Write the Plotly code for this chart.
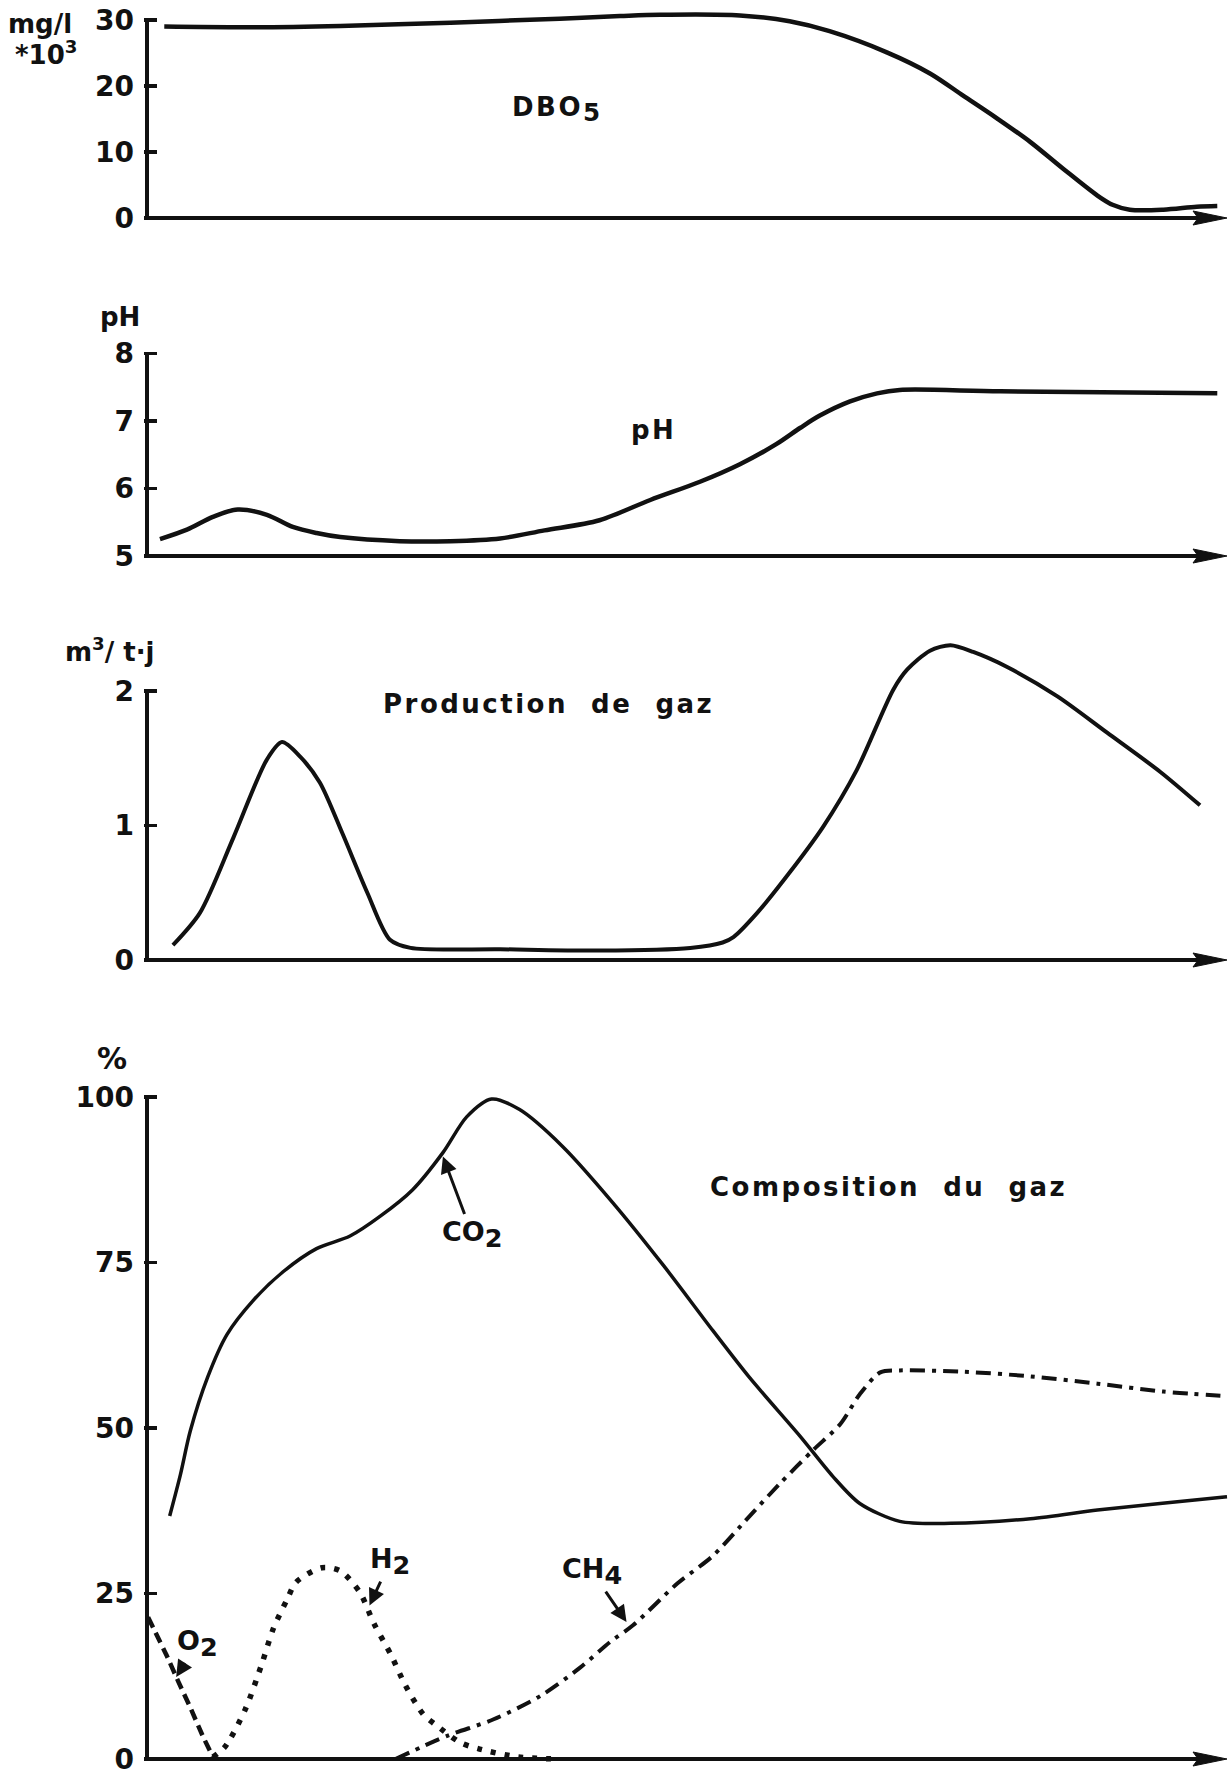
import plotly.graph_objects as go

W, H = 1230, 1776

# ---------------- data (time axis in arbitrary units, no x ticks in original) ----------------
dbo_t = [1.6, 9.5, 17.9, 28.1, 38.2, 43.8, 47.5, 54.9, 59.5, 63.2, 68.5, 72.5, 75.6, 78.7,
         81.8, 84.8, 88.0, 89.4, 91.0, 94.1, 97.2, 99.1]
dbo_v = [29.0, 28.9, 29.1, 29.6, 30.2, 30.6, 30.8, 30.7, 29.8, 28.3, 25.1, 21.9, 18.5, 15.1,
         11.5, 7.5, 3.4, 2.0, 1.25, 1.25, 1.7, 1.8]

ph_t = [1.2, 3.7, 6.1, 8.4, 11.1, 13.5, 15.7, 17.9, 23.4, 28.1, 32.7, 36.8, 41.9, 46.6, 51.2,
        54.9, 58.3, 60.5, 62.3, 65.1, 67.6, 69.7, 79.0, 99.1]
ph_v = [5.25, 5.39, 5.58, 5.69, 5.61, 5.43, 5.34, 5.28, 5.22, 5.22, 5.26, 5.38, 5.53, 5.83, 6.10,
        6.36, 6.66, 6.90, 7.08, 7.29, 7.41, 7.46, 7.44, 7.41]

gas_t = [2.4, 4.9, 8.0, 11.1, 12.5, 14.2, 16.0, 18.1, 20.4, 22.5, 24.4, 32.7, 41.9, 50.3, 53.3,
         54.3, 56.5, 59.5, 62.6, 65.7, 69.1, 70.4, 72.5, 74.4, 76.5, 79.6, 84.3, 88.9, 93.8, 97.5]
gas_v = [0.11, 0.35, 0.91, 1.49, 1.62, 1.51, 1.32, 0.94, 0.50, 0.15, 0.09, 0.08, 0.07, 0.09, 0.13,
         0.17, 0.35, 0.65, 0.99, 1.41, 2.01, 2.16, 2.30, 2.34, 2.29, 2.18, 1.96, 1.69, 1.40, 1.15]

co2_t = [2.1, 3.1, 4.0, 5.6, 7.4, 9.8, 12.6, 15.7, 18.8, 21.6, 24.6, 27.4, 29.6, 31.9, 34.5,
         38.5, 43.1, 47.8, 52.4, 55.8, 60.5, 63.5, 66.0, 69.7, 74.4, 81.8, 88.0, 93.8, 100.0]
co2_v = [36.7, 43.0, 49.5, 57.6, 64.1, 69.2, 73.6, 77.1, 79.0, 82.0, 86.0, 91.6, 97.0, 99.7, 98.1,
         92.5, 84.1, 74.6, 64.7, 57.6, 48.7, 42.7, 38.6, 35.9, 35.6, 36.3, 37.6, 38.6, 39.6]

ch4_t = [23.0, 27.8, 32.1, 36.4, 40.1, 42.9, 45.0, 49.1, 52.4, 55.8, 58.6, 61.7, 64.2, 66.0,
         67.9, 69.7, 75.6, 81.8, 88.0, 94.1, 100.0]
ch4_v = [0.0, 3.5, 6.0, 9.5, 13.8, 17.7, 20.2, 26.5, 30.7, 36.7, 41.6, 46.7, 50.6, 55.1,
         58.4, 58.7, 58.5, 57.8, 56.7, 55.5, 54.8]

h2_t = [6.1, 7.2, 9.1, 10.6, 11.7, 13.0, 13.8, 16.2, 17.9, 19.7, 21.0, 22.6, 23.9, 25.6, 26.7,
        29.0, 30.8, 34.4, 38.0]
h2_v = [0.3, 1.8, 7.5, 14.2, 19.7, 24.2, 26.7, 28.9, 28.4, 25.2, 20.5, 15.7, 11.2, 6.7, 5.2,
        2.5, 1.5, 0.3, 0.0]

o2_t = [0.1, 1.8, 2.9, 4.0, 5.1, 6.1]
o2_v = [21.4, 15.7, 11.7, 7.8, 3.7, 0.3]

ticks_dbo = [0, 10, 20, 30]
ticks_ph = [5, 6, 7, 8]
ticks_gas = [0, 1, 2]
ticks_pct = [0, 25, 50, 75, 100]

# ---------------- layout geometry (pixels of the page) ----------------
L, R = 144, 1230            # plot area left/right in px
X0_PX, X100_PX = 147, 1227  # where t=0 and t=100 fall
kx = (X100_PX - X0_PX) / 100.0
xmin = -(X0_PX - L) / kx
xmax = 100 + (R - X100_PX) / kx

# (value_lo, px_lo, value_hi, px_hi, range_min, range_max)
panels = [
    (0, 218, 30, 20, -1.3, 31.6),
    (5, 556, 8, 353.5, 4.87, 8.06),
    (0, 960, 2, 691, -0.065, 2.45),
    (0, 1759, 100, 1097, -1.3, 101.5),
]

def ydomain(p):
    vlo, plo, vhi, phi, rmin, rmax = p
    k = (plo - phi) / (vhi - vlo)
    top = phi - (rmax - vhi) * k
    bot = plo + (vlo - rmin) * k
    return [max(0, (H - bot) / H), (H - top) / H], k

FONT = "DejaVu Sans"
BLACK = "#111111"

def px2paper(px, py):
    return (px - L) / (R - L), (H - py) / H

fig = go.Figure()

tickvals_list = [ticks_dbo, ticks_ph, ticks_gas, ticks_pct]
layout_axes = {}
shapes = []
for i, p in enumerate(panels):
    n = i + 1
    dom, k = ydomain(p)
    xs = "" if n == 1 else str(n)
    layout_axes["xaxis" + xs] = dict(domain=[0, 1], range=[xmin, xmax], visible=False,
                                     anchor="y" + xs, fixedrange=True)
    layout_axes["yaxis" + xs] = dict(domain=dom, range=[p[4], p[5]], anchor="x" + xs,
                                     showline=False, showgrid=False, zeroline=False,
                                     ticks="inside", ticklen=13, tickwidth=3.5, tickcolor=BLACK,
                                     tickvals=tickvals_list[i], ticklabelstandoff=9,
                                     ticklabeloverflow="allow",
                                     tickfont=dict(family=FONT, size=28, color=BLACK, weight="bold"),
                                     automargin=False, fixedrange=True)
    # y-axis line from lowest to highest tick
    tv = tickvals_list[i]
    fig.add_trace(go.Scatter(x=[0, 0], y=[tv[0], tv[-1]], mode="lines",
                             line=dict(color=BLACK, width=4), xaxis="x" + xs, yaxis="y" + xs,
                             hoverinfo="skip", showlegend=False))
    # x-axis line with arrow head
    v0 = tv[0]
    head_len = 34 / kx
    hh = 7 / k
    shapes.append(dict(type="line", xref="x" + xs, yref="y" + xs, x0=0, x1=100 - head_len * 0.5,
                       y0=v0, y1=v0, line=dict(color=BLACK, width=4)))
    back = 100 - head_len
    notch = 100 - head_len * 0.85
    shapes.append(dict(type="path", xref="x" + xs, yref="y" + xs,
                       path=f"M {100},{v0} L {back},{v0 + hh} L {notch},{v0} L {back},{v0 - hh} Z",
                       fillcolor=BLACK, line=dict(color=BLACK, width=1)))

# ---------------- curves ----------------
fig.add_trace(go.Scatter(x=dbo_t, y=dbo_v, mode="lines", line=dict(color=BLACK, width=4.5, shape="spline", smoothing=0.9),
                         xaxis="x", yaxis="y", showlegend=False, name="DBO5"))
fig.add_trace(go.Scatter(x=ph_t, y=ph_v, mode="lines", line=dict(color=BLACK, width=4.5, shape="spline", smoothing=0.9),
                         xaxis="x2", yaxis="y2", showlegend=False, name="pH"))
fig.add_trace(go.Scatter(x=gas_t, y=gas_v, mode="lines", line=dict(color=BLACK, width=4, shape="spline", smoothing=0.8),
                         xaxis="x3", yaxis="y3", showlegend=False, name="Production de gaz"))
fig.add_trace(go.Scatter(x=co2_t, y=co2_v, mode="lines", line=dict(color=BLACK, width=3.5, shape="spline", smoothing=0.8),
                         xaxis="x4", yaxis="y4", showlegend=False, name="CO2"))
fig.add_trace(go.Scatter(x=ch4_t, y=ch4_v, mode="lines",
                         line=dict(color=BLACK, width=4, shape="spline", smoothing=0.8, dash="15px,7px,4px,7px"),
                         xaxis="x4", yaxis="y4", showlegend=False, name="CH4"))
fig.add_trace(go.Scatter(x=h2_t, y=h2_v, mode="lines",
                         line=dict(color=BLACK, width=5.5, shape="spline", smoothing=0.8, dash="5px,9px"),
                         xaxis="x4", yaxis="y4", showlegend=False, name="H2"))
fig.add_trace(go.Scatter(x=o2_t, y=o2_v, mode="lines",
                         line=dict(color=BLACK, width=4.5, shape="spline", smoothing=0.6, dash="11px,6px"),
                         xaxis="x4", yaxis="y4", showlegend=False, name="O2"))

# ---------------- text ----------------
def sub(s):
    return f"<sub><span style='font-size:135%'>{s}</span></sub>"

def spaced(s, sp=2.5):
    return f"<span style='letter-spacing:{sp}px'>{s}</span>"

tfont = dict(family=FONT, size=26, color=BLACK, weight="bold")
ufont = dict(family=FONT, size=26, color=BLACK, weight="bold")

annotations = []
# panel titles (data coordinates)
annotations.append(dict(text=spaced("DBO") + sub("5"), x=37.9, y=16.4, xref="x", yref="y", showarrow=False, font=tfont))
annotations.append(dict(text=spaced("pH"), x=46.9, y=6.87, xref="x2", yref="y2", showarrow=False, font=tfont))
annotations.append(dict(text=spaced("Production  de  gaz"), x=37.2, y=1.90, xref="x3", yref="y3", showarrow=False, font=tfont))
annotations.append(dict(text=spaced("Composition  du  gaz"), x=68.7, y=86.4, xref="x4", yref="y4", showarrow=False, font=tfont))

# unit labels (outside plot area, paper coordinates from page pixels)
for txt, cx, cy, fs in [("mg/l", 40, 24, 26), ("*10<sup>3</sup>", 46, 53, 26), ("pH", 120, 317, 26),
                        ("m<sup>3</sup>/ t·j", 110, 650, 26), ("%", 112, 1058, 30)]:
    xp, yp = px2paper(cx, cy)
    annotations.append(dict(text=txt, x=xp, y=yp, xref="paper", yref="paper", showarrow=False,
                            xanchor="center", yanchor="middle", font=dict(ufont, size=fs)))

# gas labels with arrows (tip on curve, text at tail)
for txt, tx, ty, lx, ly in [("CO" + sub("2"), 27.4, 91.0, 30.1, 79.3),
                            ("H" + sub("2"), 20.6, 23.2, 22.5, 29.8),
                            ("O" + sub("2"), 2.7, 12.4, 4.7, 17.5),
                            ("CH" + sub("4"), 44.4, 20.7, 41.2, 28.3)]:
    annotations.append(dict(text=txt, x=tx, y=ty, ax=lx, ay=ly, xref="x4", yref="y4",
                            axref="x4", ayref="y4", showarrow=True, arrowhead=2, arrowsize=1.1,
                            arrowwidth=3, arrowcolor=BLACK, standoff=0, font=dict(tfont, size=27)))

fig.update_layout(
    width=W, height=H, template="none",
    margin=dict(l=L, r=W - R, t=0, b=0, autoexpand=False),
    paper_bgcolor="white", plot_bgcolor="white",
    showlegend=False, shapes=shapes, annotations=annotations,
    **layout_axes,
)

fig.write_html("out.html", include_plotlyjs=True, config={"displayModeBar": False, "staticPlot": True},
               post_script="document.body.style.margin='0';document.body.style.padding='0';")
